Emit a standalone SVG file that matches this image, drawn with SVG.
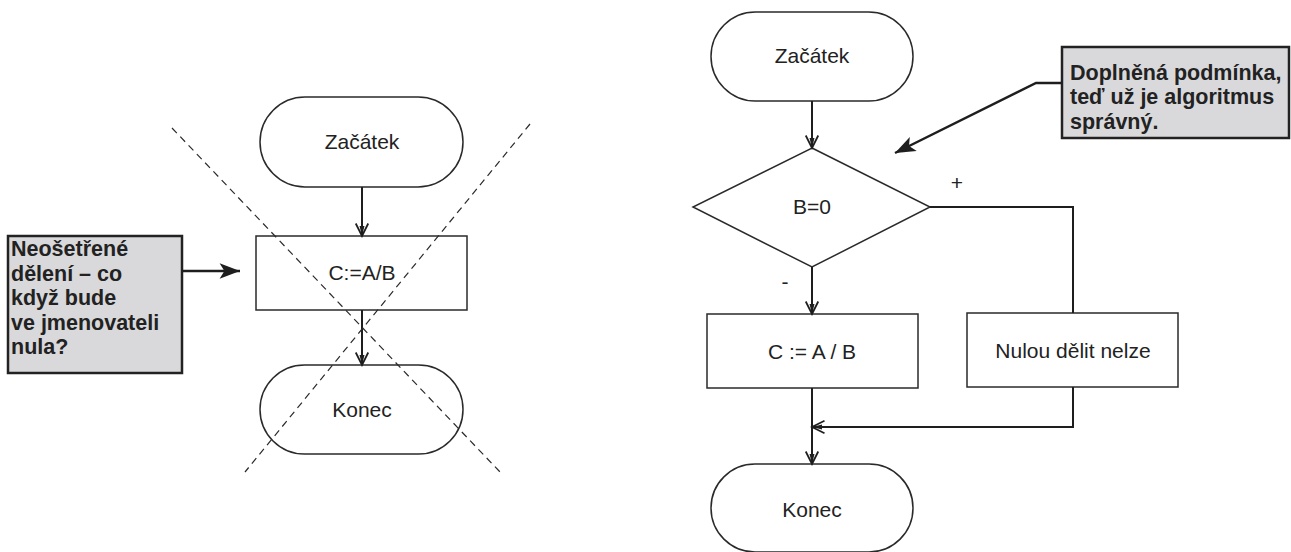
<svg xmlns="http://www.w3.org/2000/svg" width="1291" height="552" viewBox="0 0 1291 552">
  <defs>
    <style>
      .shape { fill: #ffffff; stroke: #2a2a2a; stroke-width: 1.5; }
      .note { fill: #d9d9db; stroke: #222222; stroke-width: 2.5; }
      .label { font-family: "Liberation Sans", Arial, sans-serif; font-size: 21px; fill: #222222; text-anchor: middle; }
      .notetext { font-family: "Liberation Sans", Arial, sans-serif; font-size: 21.5px; font-weight: bold; fill: #222222; }
      .flow { fill: none; stroke: #1e1e1e; stroke-width: 2; }
      .pointer { fill: none; stroke: #1e1e1e; stroke-width: 2.5; }
      .cross { fill: none; stroke: #2a2a2a; stroke-width: 1.2; stroke-dasharray: 7 5; }
    </style>
    <!-- thin arrowhead used on flow connectors -->
    <marker id="flowHead" markerUnits="userSpaceOnUse" markerWidth="20" markerHeight="20" viewBox="-12 -8 14 16" refX="0" refY="0" orient="auto">
      <path d="M-10,-5 L0,0 L-10,5" fill="none" stroke="#1e1e1e" stroke-width="1.4"/>
      <path d="M0,0 L-8,-2 L-8,2 Z" fill="#1e1e1e"/>
    </marker>
    <!-- solid arrowhead used on the note pointers -->
    <marker id="noteHead" markerUnits="userSpaceOnUse" markerWidth="24" markerHeight="20" viewBox="-18 -8 20 16" refX="0" refY="0" orient="auto">
      <path d="M0,0 L-17,-6.5 L-13,0 L-17,6.5 Z" fill="#1e1e1e"/>
    </marker>
  </defs>

  <rect width="1291" height="552" fill="#ffffff"/>

  <!-- ===== Left flowchart (wrong version) ===== -->
  <g id="left-start">
    <rect class="shape" x="260" y="97" width="203" height="90" rx="45" ry="45"/>
    <text class="label" x="362" y="149">Začátek</text>
  </g>
  <g id="left-divide">
    <rect class="shape" x="256" y="236" width="211" height="74"/>
    <text class="label" x="362" y="280">C:=A/B</text>
  </g>
  <g id="left-end">
    <rect class="shape" x="260" y="365" width="203" height="89" rx="44.5" ry="44.5"/>
    <text class="label" x="362" y="417">Konec</text>
  </g>
  <g id="left-note">
    <rect class="note" x="8" y="236" width="174" height="137"/>
    <text class="notetext" x="11" y="256">Neošetřené</text>
    <text class="notetext" x="11" y="281">dělení – co</text>
    <text class="notetext" x="11" y="305">když bude</text>
    <text class="notetext" x="11" y="330">ve jmenovateli</text>
    <text class="notetext" x="11" y="354">nula?</text>
  </g>

  <!-- ===== Right flowchart (corrected version) ===== -->
  <g id="right-start">
    <rect class="shape" x="711" y="12" width="202" height="89" rx="44.5" ry="44.5"/>
    <text class="label" x="812" y="63">Začátek</text>
  </g>
  <g id="right-decision">
    <polygon class="shape" points="812,148 930,207 812,267 693,207"/>
    <text class="label" x="812" y="214">B=0</text>
  </g>
  <g id="right-divide">
    <rect class="shape" x="707" y="314" width="211" height="74"/>
    <text class="label" x="812" y="359">C := A / B</text>
  </g>
  <g id="right-error">
    <rect class="shape" x="967" y="313" width="211" height="74"/>
    <text class="label" x="1073" y="358">Nulou dělit nelze</text>
  </g>
  <g id="right-end">
    <rect class="shape" x="711" y="464" width="202" height="88" rx="44" ry="44"/>
    <text class="label" x="812" y="517">Konec</text>
  </g>
  <g id="right-note">
    <rect class="note" x="1062" y="47" width="227" height="91"/>
    <text class="notetext" x="1070" y="80">Doplněná podmínka,</text>
    <text class="notetext" x="1070" y="104">teď už je algoritmus</text>
    <text class="notetext" x="1070" y="129">správný.</text>
  </g>

  <!-- ===== Connectors ===== -->
  <g id="connectors">
    <!-- left chart -->
    <line class="flow" x1="362" y1="187" x2="362" y2="236" marker-end="url(#flowHead)"/>
    <line class="flow" x1="362" y1="310" x2="362" y2="365" marker-end="url(#flowHead)"/>
    <line class="pointer" x1="182" y1="271" x2="240" y2="271" marker-end="url(#noteHead)"/>

    <!-- right chart -->
    <line class="flow" x1="812" y1="101" x2="812" y2="148" marker-end="url(#flowHead)"/>
    <line class="flow" x1="812" y1="267" x2="812" y2="314" marker-end="url(#flowHead)"/>
    <polyline class="flow" points="930,207 1073,207 1073,313"/>
    <line class="flow" x1="812" y1="388" x2="812" y2="464" marker-end="url(#flowHead)"/>
    <polyline class="flow" points="1073,387 1073,427 812,427" marker-end="url(#flowHead)"/>
    <polyline class="pointer" points="1062,83 1036,83 895,153" marker-end="url(#noteHead)"/>

    <!-- branch signs -->
    <text class="label" x="957" y="190">+</text>
    <text class="label" x="785" y="289">-</text>
  </g>

  <!-- strike-through cross over the left chart -->
  <g id="cross-out">
    <line class="cross" x1="172" y1="128" x2="500" y2="472"/>
    <line class="cross" x1="530" y1="124" x2="245" y2="472"/>
  </g>
</svg>
